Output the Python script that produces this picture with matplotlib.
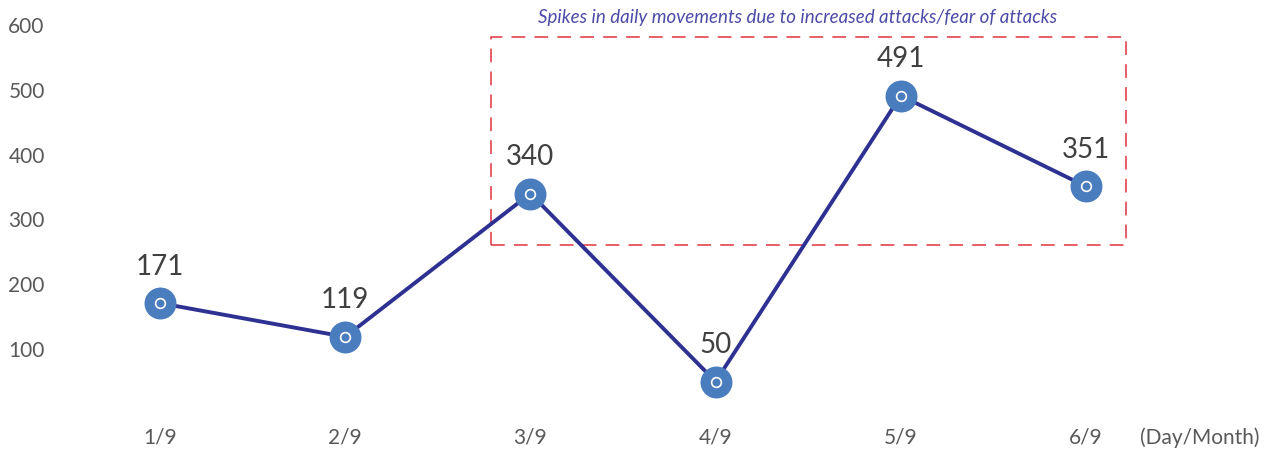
import matplotlib
matplotlib.use("Agg")
import matplotlib.pyplot as plt
from matplotlib.patches import Rectangle

dates = ["1/9", "2/9", "3/9", "4/9", "5/9", "6/9"]
values = [171, 119, 340, 50, 491, 351]
yticks = [100, 200, 300, 400, 500, 600]
box_x = (1.787, 5.216)
box_y = (261, 582)

plt.rcParams['font.family'] = ['Lato', 'DejaVu Sans']

W, H = 1271, 453
fig = plt.figure(figsize=(W/100, H/100), dpi=100)
left_px, right_px = 60, 1140
ax = fig.add_axes([left_px/W, (H-414)/H, (right_px-left_px)/W, (414-25)/H])
px_per = 185.2
ax.set_xlim(-(160-left_px)/px_per, (right_px-160)/px_per)
ax.set_ylim(0, 600)

x = list(range(len(dates)))
ax.plot(x, values, color='#2E3192', lw=2.8, zorder=2)
ax.plot(x, values, 'o', ms=23, color='#4A7DBE', mec='none', zorder=3)
ax.plot(x, values, 'o', ms=7, mfc='none', mec='white', mew=1.2, zorder=4)

for xi, v in zip(x, values):
    ax.annotate(str(v), (xi, v), xytext=(0, 17), textcoords='offset points',
                ha='center', va='bottom', fontsize=20, color='#404040')

rect = Rectangle((box_x[0], box_y[0]), box_x[1]-box_x[0], box_y[1]-box_y[0],
                 fill=False, ec='#E0343F', lw=1.1, ls=(0, (9, 6)), zorder=1)
ax.add_patch(rect)
fig.text(798/W, 1-18/H, "Spikes in daily movements due to increased attacks/fear of attacks",
         ha='center', va='center', fontsize=13.5, style='italic', color='#4B4BA8')

ax.set_xticks(x)
ax.set_xticklabels(dates)
ax.set_yticks(yticks)
ax.tick_params(axis='both', length=0, labelsize=15, labelcolor='#595959')
ax.tick_params(axis='x', pad=10)
ax.tick_params(axis='y', pad=11)
for s in ax.spines.values():
    s.set_visible(False)
fig.text(1140/W, 1-438/H, "(Day/Month)", ha='left', va='center',
         fontsize=15, color='#595959')

fig.savefig("out.png", dpi=100)
